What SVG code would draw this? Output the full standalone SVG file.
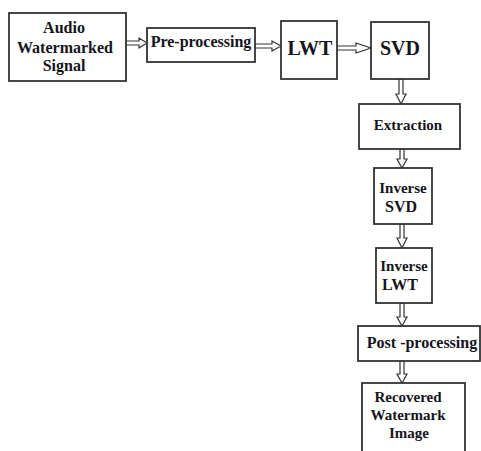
<svg xmlns="http://www.w3.org/2000/svg" width="481" height="451" viewBox="0 0 481 451">
<style>
.box{fill:#fff;stroke:#333;stroke-width:1.8}
.arr{fill:#fff;stroke:#333;stroke-width:1.2;stroke-linejoin:miter}
text{font-family:"Liberation Serif","Times New Roman",serif;font-weight:bold;fill:#141420;text-anchor:middle}
.m{font-size:16px}
.s{font-size:15px}
.l{font-size:20px}
</style>
<rect width="481" height="451" fill="#fff"/>
<g id="connectors">
<polygon class="arr" points="126,41 139,41 139,38 147,43 139,48 139,45 126,45"/>
<polygon class="arr" points="255,44 272,44 272,41 281,46 272,51 272,48 255,48"/>
<polygon class="arr" points="337,46 356,46 356,43 371,48 356,53 356,50 337,50"/>
<polygon class="arr" points="399,79 399,94 396,94 401,104 406,94 403,94 403,79"/>
<polygon class="arr" points="400,149 400,159 397,159 402,168 407,159 404,159 404,149"/>
<polygon class="arr" points="400,224 400,238 397,238 402,248 407,238 404,238 404,224"/>
<polygon class="arr" points="400,303 400,317 397,317 402,326 407,317 404,317 404,303"/>
<polygon class="arr" points="400,361 400,374 397,374 402,383 407,374 404,374 404,361"/>
</g>
<g id="audio">
<rect class="box" x="9" y="13" width="117" height="68"/>
<text class="m" x="64" y="33">Audio</text>
<text class="m" x="65" y="53">Watermarked</text>
<text class="m" x="64" y="71">Signal</text>
</g>
<g id="preprocessing">
<rect class="box" x="147" y="28" width="108" height="34"/>
<text class="m" x="201" y="47">Pre-processing</text>
</g>
<g id="lwt">
<rect class="box" x="281" y="21" width="56" height="58"/>
<text class="l" x="310" y="55">LWT</text>
</g>
<g id="svd">
<rect class="box" x="371" y="22" width="58" height="57"/>
<text class="l" x="400" y="55">SVD</text>
</g>
<g id="extraction">
<rect class="box" x="359" y="104" width="101" height="45"/>
<text class="s" x="408" y="130">Extraction</text>
</g>
<g id="inverse-svd">
<rect class="box" x="374" y="168" width="58" height="56"/>
<text class="s" x="403" y="193">Inverse</text>
<text class="m" x="401" y="212">SVD</text>
</g>
<g id="inverse-lwt">
<rect class="box" x="376" y="248" width="56" height="55"/>
<text class="s" x="404" y="271">Inverse</text>
<text class="m" x="400" y="290">LWT</text>
</g>
<g id="postprocessing">
<rect class="box" x="358" y="326" width="122" height="35"/>
<text class="m" x="422" y="348">Post -processing</text>
</g>
<g id="recovered">
<rect class="box" x="362" y="383" width="103" height="75"/>
<text class="s" x="408" y="402">Recovered</text>
<text class="s" x="408" y="420">Watermark</text>
<text class="s" x="409" y="438">Image</text>
</g>
</svg>
